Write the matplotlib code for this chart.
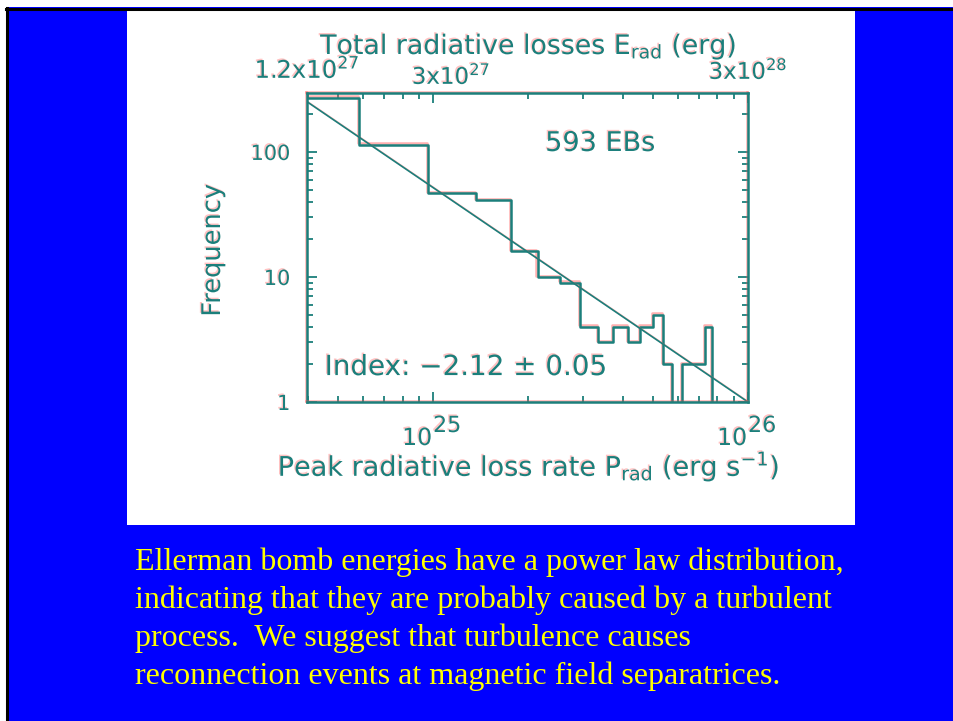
import matplotlib
matplotlib.use("Agg")
import matplotlib.pyplot as plt
from matplotlib.patches import Rectangle
from matplotlib.lines import Line2D
from matplotlib.ticker import LogLocator, NullFormatter
import matplotlib.patheffects as pe

# ---------------- data ----------------
bin_edges = [1.9e24, 5.82e24, 9.64e24, 13.7e24, 17.7e24, 21.5e24, 25.3e24, 29.3e24,
             33.4e24, 37.3e24, 41.6e24, 45.4e24, 49.9e24, 53.7e24, 57.4e24, 61.7e24,
             65.5e24, 69.3e24, 73.1e24, 76.9e24, 100e24]
counts = [272, 114, 47, 41, 16, 10, 9, 4, 3, 4, 3, 4, 5, 2, 0, 2, 2, 2, 4, 0]
fit_x = [3.98e24, 1.0e26]
fit_y = [252, 1.0]

x_ticks = [1e25, 1e26]
x_tick_base = ['10', '10']
x_tick_exp = ['25', '26']
y_ticks = [1, 10, 100]
y_ticklabels = ['1', '10', '100']
top_labels = [r'1.2x10$^{27}$', r'3x10$^{27}$', r'3x10$^{28}$']

title_top = r'Total radiative losses E$_{\rm rad}$ (erg)'
xlabel = r'Peak radiative loss rate P$_{\rm rad}$ (erg s$^{-1}$)'
ylabel = 'Frequency'
n_label = '593 EBs'
index_label = 'Index: \u22122.12 \u00b1 0.05'
caption = ["Ellerman bomb energies have a power law distribution,",
           "indicating that they are probably caused by a turbulent",
           "process.  We suggest that turbulence causes",
           "reconnection events at magnetic field separatrices."]

# ---------------- figure ----------------
W, H = 954, 721
fig = plt.figure(figsize=(W / 100, H / 100), dpi=100)
fig.patch.set_facecolor('#0000ff')

def fx(x):
    return x / W

def fy(y):
    return 1 - y / H

# white margins and black slide border
fig.add_artist(Rectangle((0, fy(7)), 1, 7 / H, transform=fig.transFigure,
                         facecolor='white', edgecolor='none', zorder=0))
fig.add_artist(Rectangle((0, 0), fx(6), 1, transform=fig.transFigure,
                         facecolor='white', edgecolor='none', zorder=0))
fig.add_artist(Line2D([fx(6), 1], [fy(8.5), fy(8.5)], transform=fig.transFigure,
                      color='black', lw=2.2, zorder=1))
fig.add_artist(Line2D([fx(7.5), fx(7.5)], [0, fy(8)], transform=fig.transFigure,
                      color='black', lw=2.2, zorder=1))
# white panel
fig.add_artist(Rectangle((fx(127), fy(525)), fx(855) - fx(127), fy(10) - fy(525),
                         transform=fig.transFigure, facecolor='white',
                         edgecolor='none', zorder=0))

teal = '#1b7f7b'
font = 'DejaVu Sans'
line_fx = [pe.SimpleLineShadow(offset=(-1, 1), shadow_color='#ff5050', alpha=0.45),
           pe.Normal()]
text_fx = [pe.SimplePatchShadow(offset=(-1, 1), shadow_rgbFace='#ff5050', alpha=0.35),
           pe.Normal()]

ax = fig.add_axes([fx(307), fy(402), fx(748) - fx(307), fy(93) - fy(402)])
ax.set_facecolor('white')
ax.set_xscale('log')
ax.set_yscale('log', nonpositive='clip')
ax.set_xlim(3.98e24, 1e26)
ax.set_ylim(1, 296)

# histogram as steps
step_x = []
step_y = []
for i, c in enumerate(counts):
    step_x += [bin_edges[i], bin_edges[i + 1]]
    step_y += [c, c]
ax.plot(step_x, step_y, color=teal, lw=1.8, path_effects=line_fx)
ax.plot(fit_x, fit_y, color=teal, lw=1.2, path_effects=line_fx)

for s in ax.spines.values():
    s.set_color(teal)
    s.set_linewidth(1.8)
    s.set_path_effects(line_fx)

ax.set_xticks(x_ticks, labels=['', ''])
ax.xaxis.set_minor_locator(LogLocator(base=10, subs=range(2, 10), numticks=20))
ax.xaxis.set_minor_formatter(NullFormatter())
ax.set_yticks(y_ticks, labels=y_ticklabels)
ax.yaxis.set_minor_locator(LogLocator(base=10, subs=range(2, 10), numticks=20))
ax.yaxis.set_minor_formatter(NullFormatter())
ax.tick_params(which='both', direction='in', top=True, right=True, color=teal,
               width=1.3, labelcolor=teal)
ax.tick_params(which='major', length=7)
ax.tick_params(which='minor', length=4)
ax.tick_params(axis='y', which='major', pad=12, labelsize=15)
for lab in ax.get_yticklabels():
    lab.set_family(font)
    lab.set_path_effects(text_fx)

# bottom tick labels: base + raised exponent of similar size
xt = ax.get_xaxis_transform()
for xv, b, e in zip(x_ticks, x_tick_base, x_tick_exp):
    ax.annotate(b, xy=(xv, 0), xycoords=xt, xytext=(-1, -43), textcoords='offset pixels',
                ha='right', va='baseline', fontsize=17, color=teal, family=font,
                annotation_clip=False, path_effects=text_fx)
    ax.annotate(e, xy=(xv, 0), xycoords=xt, xytext=(0, -30), textcoords='offset pixels',
                ha='left', va='baseline', fontsize=16, color=teal, family=font,
                annotation_clip=False, path_effects=text_fx)

# in-plot annotations
ax.text(0.665, 0.835, n_label, transform=ax.transAxes, color=teal, fontsize=19.5,
        ha='center', va='center', family=font, path_effects=text_fx)
ax.text(0.04, 0.113, index_label, transform=ax.transAxes, color=teal, fontsize=20,
        ha='left', va='center', family=font, path_effects=text_fx)

# axis labels and top axis labels (placed in figure pixels)
fig.text(fx(528), fy(54), title_top, color=teal, fontsize=19.3, ha='center',
         va='baseline', family=font, path_effects=text_fx)
fig.text(fx(307), fy(78), top_labels[0], color=teal, fontsize=17.5, ha='center',
         va='baseline', family=font, path_effects=text_fx)
fig.text(fx(451), fy(84), top_labels[1], color=teal, fontsize=16.5, ha='center',
         va='baseline', family=font, path_effects=text_fx)
fig.text(fx(748), fy(79), top_labels[2], color=teal, fontsize=16.5, ha='center',
         va='baseline', family=font, path_effects=text_fx)
fig.text(fx(529), fy(476), xlabel, color=teal, fontsize=19.5, ha='center',
         va='baseline', family=font, path_effects=text_fx)
fig.text(fx(213), fy(250), ylabel, color=teal, fontsize=18.5, ha='center',
         va='center', rotation=90, family=font, path_effects=text_fx)

# caption
for i, line in enumerate(caption):
    fig.text(fx(135), fy(570 + 38 * i), line, color='#ffff00', fontsize=23.0,
             ha='left', va='baseline', family='Liberation Serif')

fig.savefig('out.png', dpi=100, facecolor=fig.get_facecolor())
